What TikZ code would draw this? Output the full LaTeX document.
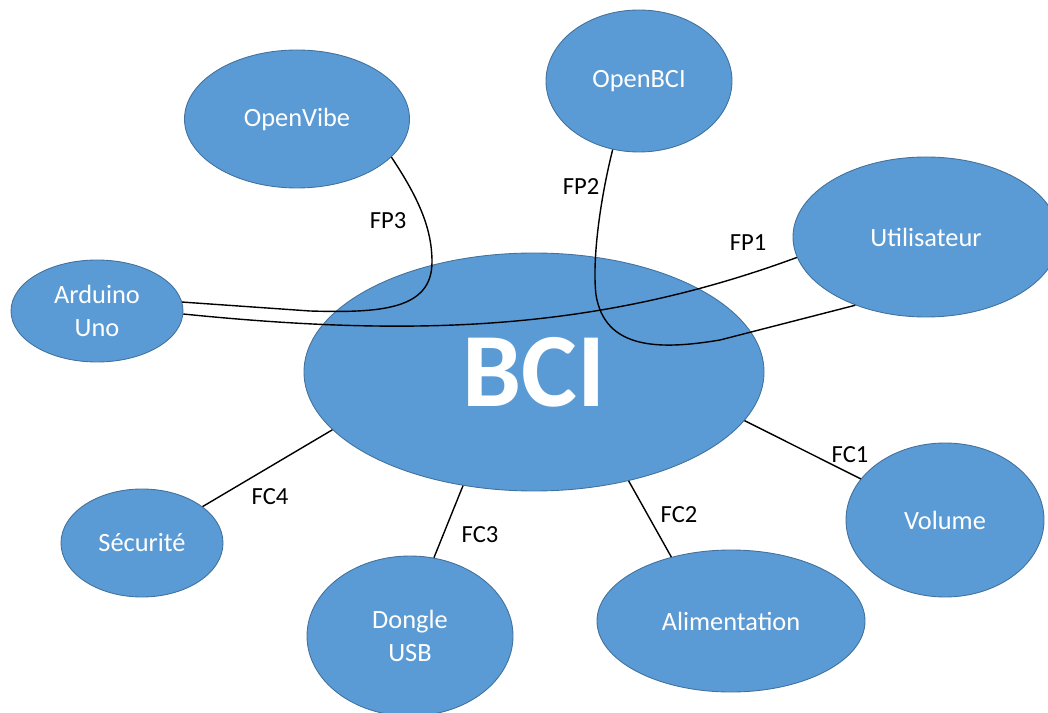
\documentclass[tikz,border=0pt]{standalone}
\usepackage{fontspec}
\setmainfont{Carlito}
\usetikzlibrary{shapes.geometric}
\definecolor{bleu}{RGB}{91,155,213}
\definecolor{bord}{RGB}{65,113,156}
\begin{document}
\begin{tikzpicture}[x=0.2mm, y=-0.2mm,
      bubble/.style 2 args={ellipse, fill=bleu, draw=bord, line width=0.5pt,
        text=white, inner sep=0pt, align=center,
        minimum width=#1*0.2mm, minimum height=#2*0.2mm,
        font=\fontsize{15pt}{18.5pt}\selectfont},
      lien/.style={line width=0.8pt},
      lbl/.style={font=\fontsize{14pt}{16pt}\selectfont},
    ]
    \useasboundingbox (0,0) rectangle (1048,713);
    \node[bubble={460}{238}, font=\fontsize{60pt}{60pt}\selectfont\bfseries] (bci) at (534,372) {BCI};
    \node[bubble={225}{138}] (openvibe) at (297,119) {OpenVibe};
    \node[bubble={186}{142}] (openbci) at (639,81) {OpenBCI};
    \node[bubble={266}{160}] (user) at (926,237) {Utilisateur};
    \node[bubble={172}{102}] (arduino) at (97,311) {Arduino\\Uno};
    \node[bubble={162}{108}] (secu) at (142,543) {Sécurité};
    \node[bubble={206}{160}] (dongle) at (410,636) {Dongle\\USB};
    \node[bubble={268}{142}] (alim) at (731,621) {Alimentation};
    \node[bubble={198}{154}] (volume) at (945,520) {Volume};
    % fonctions contraintes
    \draw[lien] (bci.-13.7) -- (volume.154.8);
    \draw[lien] (bci.-49.5) -- (alim.133.2);
    \draw[lien] (bci.-122.2) -- (dongle.73.6);
    \draw[lien] (bci.196.5) -- (secu.31.4);
    \node[lbl] (fc1) at (850,455) {FC1};
    \node[lbl] (fc2) at (679,515) {FC2};
    \node[lbl] (fc3) at (480,535) {FC3};
    \node[lbl] (fc4) at (270,497) {FC4};
    % fonctions principales
    \draw[lien] (openvibe.-22) .. controls (420,200) and (432,230) .. (432,262)
      .. controls (432,310) and (380,313) .. (310,311) -- (arduino.6);
    \draw[lien] (arduino.-2) .. controls (420,338) and (600,330) .. (user.189.3);
    \draw[lien] (openbci.-111) .. controls (600,200) and (592,260) .. (596,295)
      .. controls (605,350) and (660,350) .. (720,340) -- (user.224);
    \node[lbl] (fp1) at (748,243) {FP1};
    \node[lbl] (fp2) at (581,187) {FP2};
    \node[lbl] (fp3) at (388,221) {FP3};
  \end{tikzpicture}
\end{document}
